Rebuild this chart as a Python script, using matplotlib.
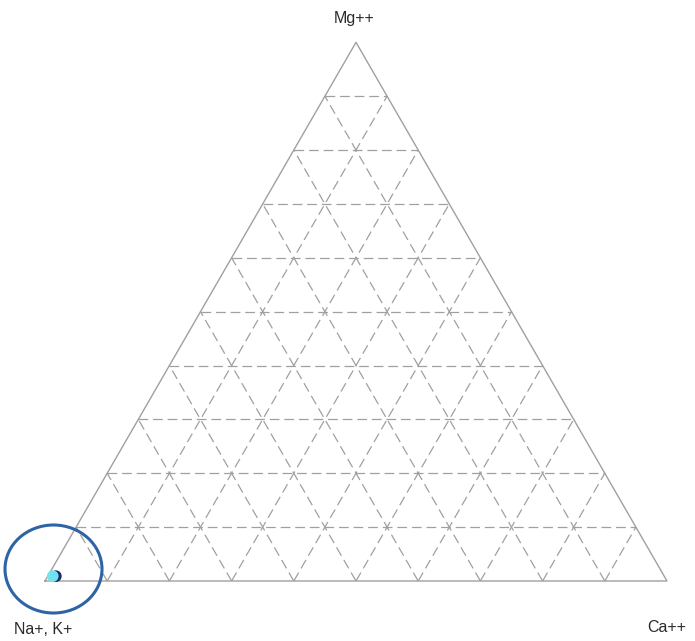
import numpy as np
import matplotlib
matplotlib.use("Agg")
import matplotlib.pyplot as plt
from matplotlib.patches import Ellipse

plt.rcParams['lines.scale_dashes'] = False
plt.rcParams['font.family'] = ['Liberation Sans', 'DejaVu Sans']

# Cation composition of the samples (percent of Na+K, Ca, Mg)
sample_names = ["Sample A", "Sample B"]
na_k = [97.8, 98.3]
ca = [1.3, 0.8]
mg = [0.9, 0.9]
marker_colors = ["#1b2a6b", "#6fe3ee"]

corner_labels = ["Na+, K+", "Ca++", "Mg++"]
grid_steps = [10, 20, 30, 40, 50, 60, 70, 80, 90]

H = np.sqrt(3) / 2


def to_xy(a, b, c):
    """Ternary (Na+K, Ca, Mg) -> cartesian; Na+K at left, Ca at right, Mg on top."""
    a, b, c = np.asarray(a, float), np.asarray(b, float), np.asarray(c, float)
    s = a + b + c
    b, c = b / s, c / s
    return b + c / 2, c * H


fig = plt.figure(figsize=(6.95, 6.41), dpi=100)
ax = fig.add_axes([0, 0, 1, 1])
ax.set_xlim(-45 / 622, 650 / 622)
ax.set_ylim((581 - 641) / 622, 581 / 622)
ax.set_aspect('equal')
ax.axis('off')

grid_kw = dict(color="#a0a0a0", lw=0.9, linestyle=(0, (7, 3.5)), zorder=1)
for g in grid_steps:
    # constant Mg
    x0, y0 = to_xy(100 - g, 0, g)
    x1, y1 = to_xy(0, 100 - g, g)
    ax.plot([x0, x1], [y0, y1], **grid_kw)
    # constant Ca
    x0, y0 = to_xy(100 - g, g, 0)
    x1, y1 = to_xy(0, g, 100 - g)
    ax.plot([x0, x1], [y0, y1], **grid_kw)
    # constant Na+K
    x0, y0 = to_xy(g, 100 - g, 0)
    x1, y1 = to_xy(g, 0, 100 - g)
    ax.plot([x0, x1], [y0, y1], **grid_kw)

# outer triangle
tx, ty = to_xy([100, 0, 0, 100], [0, 100, 0, 0], [0, 0, 100, 0])
ax.plot(tx, ty, color="#a0a0a0", lw=1.0, zorder=2)

# samples
px, py = to_xy(na_k, ca, mg)
for x, y, col in zip(px, py, marker_colors):
    ax.scatter([x], [y], s=70, color=col, edgecolors='none', zorder=4)

# corner labels
lab_kw = dict(fontsize=11.5, color="#2a2a2a", ha='center', va='center')
ax.text(-0.0025, -0.0775, corner_labels[0], **lab_kw)
ax.text(1.0, -0.075, corner_labels[1], **lab_kw)
ax.text(0.4975, 0.905, corner_labels[2], **lab_kw)

# highlight ring around the sample cluster
ax.add_patch(Ellipse((8.5 / 622, 12 / 622), 97 / 622, 88 / 622,
                     fill=False, edgecolor="#2e64a6", lw=2.2, zorder=5))

fig.savefig("out.png", dpi=100)
